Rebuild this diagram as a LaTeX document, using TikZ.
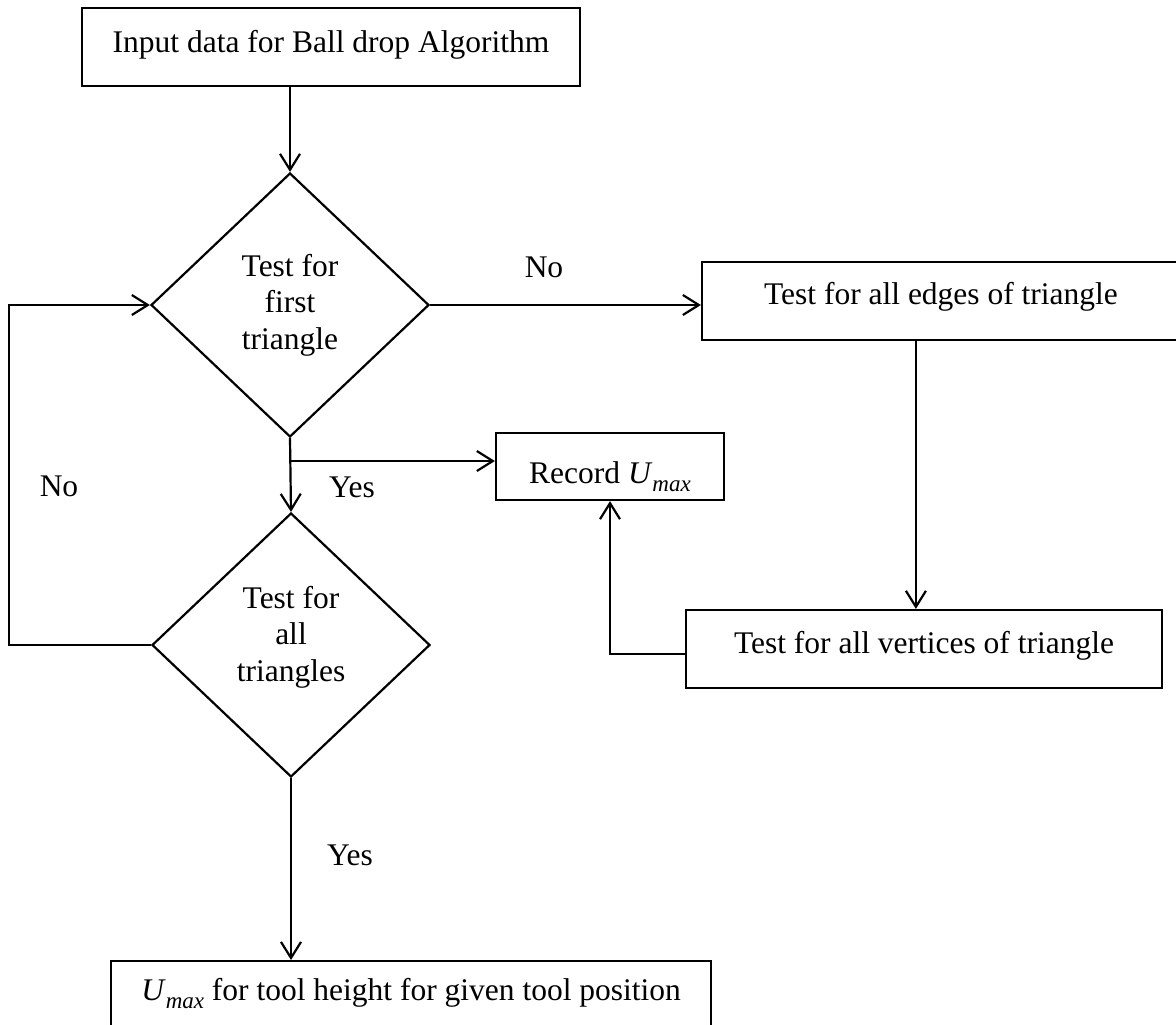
\documentclass[tikz,border=0pt]{standalone}
\usepackage{fontspec}
\setmainfont{Liberation Serif}
\usetikzlibrary{arrows.meta,shapes.geometric}
\newcommand\umaxsym{\textit{U}\raisebox{-0.28em}{\fontsize{23}{25}\selectfont\textit{max}}}
\begin{document}
\begin{tikzpicture}[x=1pt,y=-1pt,
  every node/.style={font=\fontsize{31.5}{36.5}\selectfont},
  box/.style={draw,line width=2.2pt,rectangle,inner sep=0pt,text height=22pt},
  dia/.style={draw,line width=2.2pt,diamond,inner sep=0pt,minimum width=278pt,minimum height=264pt,align=center},
  arr/.style={line width=2.2pt,-{Straight Barb[length=16pt,width=20pt,line width=2.2pt]}},
  lab/.style={inner sep=0pt}]
\useasboundingbox (0,0) rectangle (1176,1025);
\fill[white] (0,0) rectangle (1176,1025);
% boxes
\node[box,minimum width=498pt,minimum height=78pt,text depth=10pt] (b1) at (331,47) {Input data for Ball drop Algorithm};
\node[box,minimum width=478pt,minimum height=78pt,text depth=16pt] (b2) at (941,301) {Test for all edges of triangle};
\node[box,minimum width=476pt,minimum height=78pt,text depth=14pt] (b3) at (924,649) {Test for all vertices of triangle};
\node[box,minimum width=228pt,minimum height=67pt,text height=40pt,text depth=7pt] (rec) at (610,466.5) {Record \umaxsym};
\node[box,anchor=north west,minimum width=600pt,text height=39pt,text depth=80pt] (b5) at (110,960) {\umaxsym{} for tool height for given tool position};
% decisions
\node[dia] (d1) at (290,305) {Test for\\first\\triangle};
\node[dia,text depth=23pt] (d2) at (291,645) {Test for\\all\\triangles};
% labels
\node[lab] (no1) at (544,267) {No};
\node[lab] (yes1) at (352,487) {Yes};
\node[lab] (no2) at (59,486) {No};
\node[lab] (yes2) at (350,855) {Yes};
% connectors
\draw[arr] (d1.north |- b1.south) -- (d1.north);
\draw[arr] (d1.east) -- (d1.east -| b2.west);
\draw[arr] ([xshift=215pt]b2.south west) -- ([xshift=231pt]b3.north west);
\draw[arr] (d1.south) -- (d2.north);
\coordinate (br) at (290,461);
\draw[arr] (br) -- (br -| rec.west);
\draw[arr] ([yshift=-5pt]b3.west) -| (rec.south);
\draw[arr] (d2.west) -- ++(-142,0) |- (d1.west);
\draw[arr] (d2.south) -- (d2.south |- b5.north);
\end{tikzpicture}
\end{document}
